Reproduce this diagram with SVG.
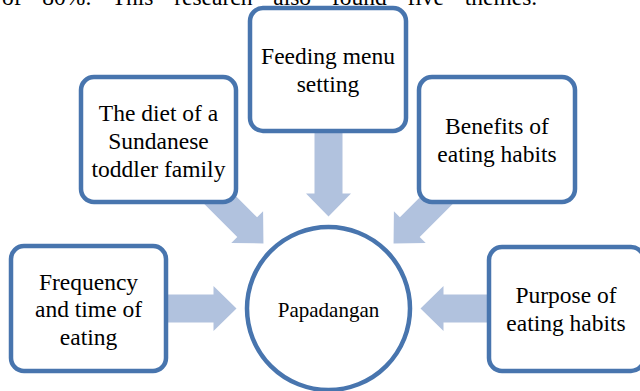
<svg xmlns="http://www.w3.org/2000/svg" width="640" height="391" viewBox="0 0 640 391">
  <defs>
    <style>
      .box { fill: #ffffff; stroke: #4875ae; stroke-width: 4.5; }
      .arrow { fill: #b1c2de; stroke: none; }
      text { font-family: 'Liberation Serif', 'DejaVu Serif', serif; fill: #000000; }
      .lbl { font-size: 23.5px; text-anchor: middle; }
      .clbl { font-size: 21px; text-anchor: middle; }
      .body { font-size: 23.5px; }
    </style>
    <path id="blockArrow" d="M -185 -14 L -115 -14 L -115 -22.5 L -92 0 L -115 22.5 L -115 14 L -185 14 Z"/>
  </defs>

  <text class="body" x="2" y="5" word-spacing="14.9" font-family="Liberation Serif, serif">of 80%. This research also found five themes.</text>

  <g id="connectors">
    <use href="#blockArrow" class="arrow" transform="translate(328.5,308.5) rotate(0)"/>
    <use href="#blockArrow" class="arrow" transform="translate(328.5,308.5) rotate(180)"/>
    <use href="#blockArrow" class="arrow" transform="translate(328.5,308.5) rotate(90)"/>
    <use href="#blockArrow" class="arrow" transform="translate(328.5,308.5) rotate(45)"/>
    <use href="#blockArrow" class="arrow" transform="translate(328.5,308.5) rotate(135)"/>
  </g>

  <g id="feeding" font-family="Liberation Serif, serif">
    <rect class="box" x="250" y="8" width="156" height="123" rx="13"/>
    <text class="lbl" x="328" y="64">Feeding menu</text>
    <text class="lbl" x="328" y="92">setting</text>
  </g>

  <g id="diet" font-family="Liberation Serif, serif">
    <rect class="box" x="81" y="77" width="155" height="125" rx="13"/>
    <text class="lbl" x="158.5" y="121">The diet of a</text>
    <text class="lbl" x="158.5" y="149">Sundanese</text>
    <text class="lbl" x="158.5" y="177">toddler family</text>
  </g>

  <g id="benefits" font-family="Liberation Serif, serif">
    <rect class="box" x="419" y="77" width="156" height="125" rx="13"/>
    <text class="lbl" x="497" y="134">Benefits of</text>
    <text class="lbl" x="497" y="162">eating habits</text>
  </g>

  <g id="frequency" font-family="Liberation Serif, serif">
    <rect class="box" x="11" y="246" width="155" height="125" rx="13"/>
    <text class="lbl" x="88.5" y="290">Frequency</text>
    <text class="lbl" x="88.5" y="317">and time of</text>
    <text class="lbl" x="88.5" y="345">eating</text>
  </g>

  <g id="purpose" font-family="Liberation Serif, serif">
    <rect class="box" x="489" y="247" width="155" height="124" rx="13"/>
    <text class="lbl" x="566" y="303">Purpose of</text>
    <text class="lbl" x="566" y="331">eating habits</text>
  </g>

  <g id="papadangan" font-family="Liberation Serif, serif">
    <circle class="box" cx="328.5" cy="308.5" r="81.5"/>
    <text class="clbl" x="328.5" y="317">Papadangan</text>
  </g>
</svg>
